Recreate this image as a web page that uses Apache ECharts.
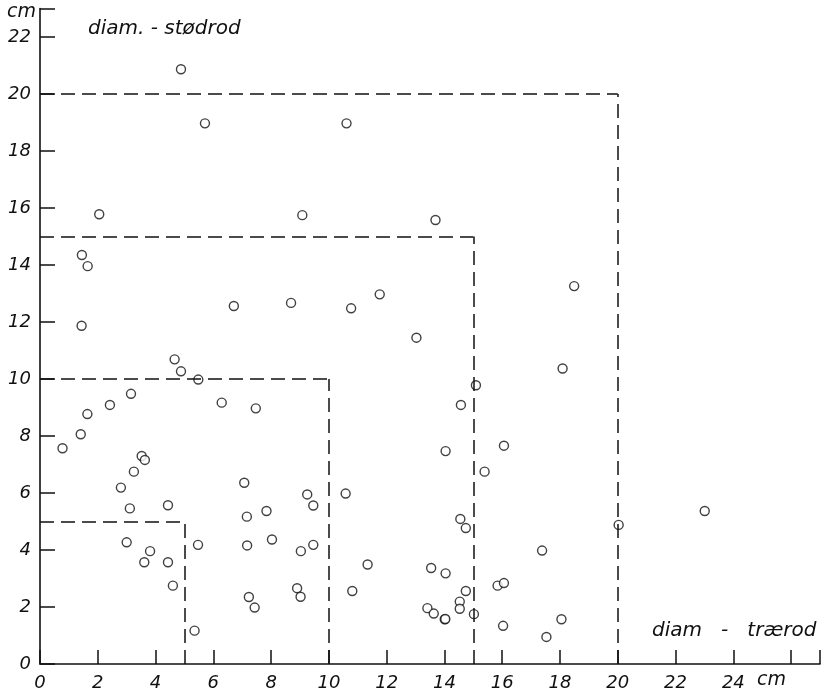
<!DOCTYPE html>
<html>
<head>
<meta charset="utf-8">
<script src="https://cdn.jsdelivr.net/npm/echarts@6/dist/echarts.min.js"></script>
<style>
  html, body { margin: 0; padding: 0; background: #fff; }
  #chart { width: 825px; height: 697px; }
</style>
</head>
<body>
<div id="chart"></div>
<script>
  // diam. - trærod (x) og diam. - stødrod (y), cm
  var traerod = [4.88, 5.71, 2.05, 10.61, 9.08, 13.69, 1.45, 1.65, 1.44, 6.71,
    8.69, 4.66, 4.88, 5.48, 3.15, 2.42, 1.64, 1.41, 0.78, 3.52,
    3.63, 6.29, 7.47, 3.25, 2.80, 3.11, 4.43, 3.00, 3.81, 3.61,
    4.43, 4.60, 5.47, 5.35, 7.07, 7.16, 7.17, 7.84, 8.03, 7.23,
    7.43, 9.03, 8.90, 9.02, 9.25, 9.46, 9.46, 10.58, 11.34, 10.81,
    15.39, 14.55, 14.74, 13.54, 14.04, 14.74, 14.53, 14.53, 13.41, 13.63,
    14.01, 14.03, 15.02, 15.84, 16.06, 16.03, 17.38, 18.05, 17.53, 10.77,
    11.76, 13.03, 18.49, 18.09, 15.09, 14.57, 14.04, 16.06, 20.03, 23.01];
  var stodrod = [20.87, 18.97, 15.78, 18.97, 15.75, 15.58, 14.35, 13.96, 11.87, 12.56,
    12.67, 10.69, 10.27, 9.98, 9.48, 9.09, 8.77, 8.06, 7.57, 7.30,
    7.16, 9.17, 8.97, 6.75, 6.19, 5.46, 5.57, 4.27, 3.96, 3.57,
    3.57, 2.75, 4.18, 1.17, 6.36, 5.17, 4.16, 5.37, 4.37, 2.35,
    1.98, 3.96, 2.66, 2.36, 5.95, 5.56, 4.18, 5.98, 3.49, 2.56,
    6.75, 5.09, 4.77, 3.37, 3.18, 2.56, 2.19, 1.94, 1.96, 1.77,
    1.57, 1.58, 1.75, 2.75, 2.84, 1.34, 3.98, 1.57, 0.95, 12.48,
    12.97, 11.45, 13.26, 10.37, 9.78, 9.09, 7.47, 7.66, 4.88, 5.37];
  // de stiplede kvadrater
  var boxes = [5, 10, 15, 20];

  var points = traerod.map(function (x, i) { return [x, stodrod[i]]; });
  var lines = [];
  boxes.forEach(function (k) {
    lines.push([{ coord: [0, k] }, { coord: [k, k] }]);
    lines.push([{ coord: [k, 0] }, { coord: [k, k] }]);
  });

  var font = 'DejaVu Sans';
  var txt = function (s, left, top, size) {
    return { type: 'text', left: left, top: top,
      style: { text: s, fontSize: size, fontStyle: 'italic', fontFamily: font, fill: '#111' } };
  };
  var chart = echarts.init(document.getElementById('chart'));
  chart.setOption({
    backgroundColor: '#fff',
    animation: false,
    grid: { left: 40, right: 5, top: 8.5, bottom: 33 },
    xAxis: {
      type: 'value', min: 0, max: 27, interval: 2,
      splitLine: { show: false },
      axisLine: { onZero: false, lineStyle: { color: '#111', width: 1.6 } },
      axisTick: { inside: true, length: 14, lineStyle: { color: '#111', width: 1.5 } },
      axisLabel: {
        margin: 10, color: '#111', fontSize: 18, fontStyle: 'italic', fontFamily: font,
        formatter: function (v) { return v > 24 ? '' : v; }
      }
    },
    yAxis: {
      type: 'value', min: 0, max: 23, interval: 2,
      splitLine: { show: false },
      axisLine: { onZero: false, lineStyle: { color: '#111', width: 1.6 } },
      axisTick: { inside: true, length: 15, lineStyle: { color: '#111', width: 1.5 } },
      axisLabel: {
        margin: 9, color: '#111', fontSize: 18, fontStyle: 'italic', fontFamily: font,
        formatter: function (v) { return v > 22 ? '' : v; }
      }
    },
    graphic: [
      txt('cm', 7, 3, 19),
      txt('diam. - stødrod', 88, 19, 20),
      txt('diam   -   trærod', 652, 621, 20),
      txt('cm', 757, 671, 19)
    ],
    series: [{
      type: 'scatter',
      data: points,
      symbol: 'circle',
      symbolSize: 9,
      itemStyle: { color: '#fff', borderColor: '#111', borderWidth: 1.4 },
      markLine: {
        silent: true,
        symbol: 'none',
        label: { show: false },
        lineStyle: { color: '#111', type: [14, 7], width: 1.5 },
        data: lines
      }
    }]
  });
</script>
</body>
</html>
